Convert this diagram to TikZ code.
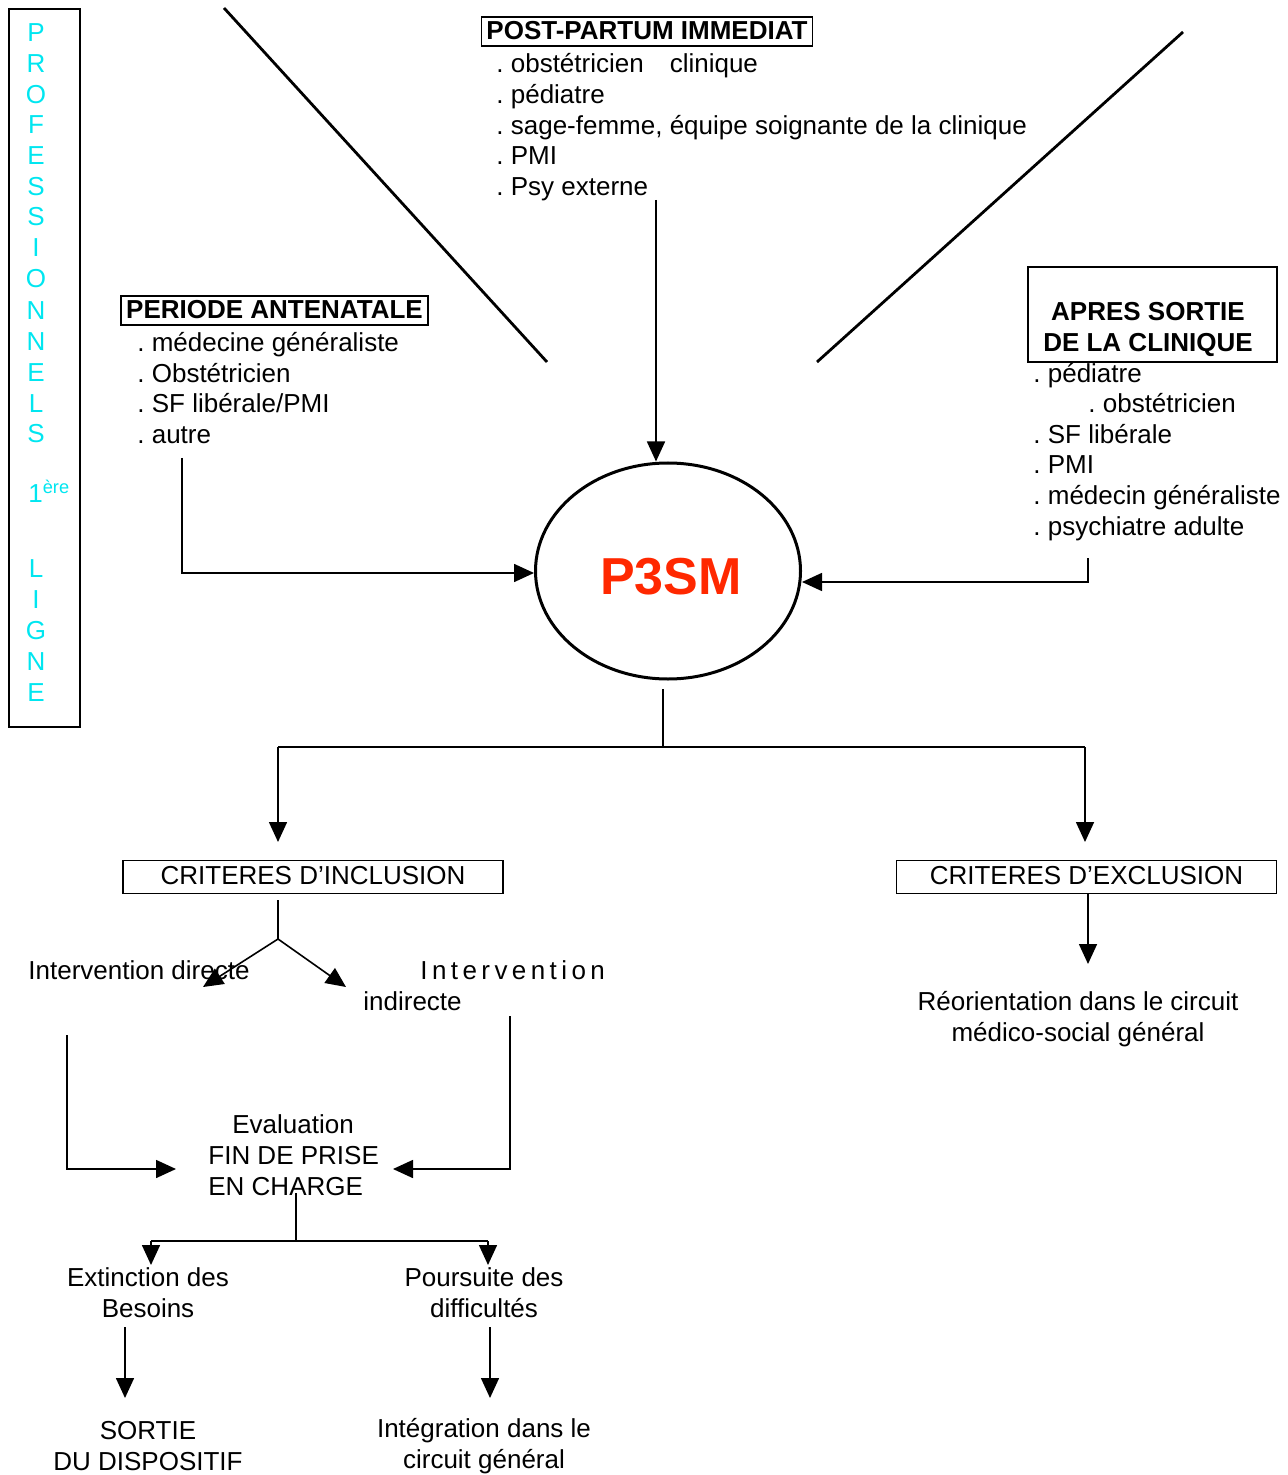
\documentclass[tikz,border=0pt]{standalone}
\usepackage{fontspec}
\setmainfont{Liberation Sans}
\usetikzlibrary{arrows.meta,shapes.geometric}
\definecolor{vertical}{RGB}{0,230,240}
\definecolor{logo}{RGB}{255,40,0}
\frenchspacing
\begin{document}
\begin{tikzpicture}[x=0.5pt,y=-0.5pt,
  every node/.style={inner sep=0pt,font=\fontsize{13}{15.5}\selectfont},
  conn/.style={line width=0.8pt},
  arr/.style={conn,-{Triangle[length=10pt,width=9pt]}},
  txt/.style={text height=11pt,text depth=1.3pt},
  item/.style={txt,anchor=west},
  head/.style={draw,line width=0.8pt,font=\fontsize{13}{15.5}\selectfont\bfseries,
    inner xsep=2.5pt,minimum height=14.5pt,text height=10.5pt,text depth=2.2pt},
  crit/.style={draw,line width=0.8pt,minimum width=190pt,minimum height=16.5pt,
    text height=10pt,text depth=2.2pt},
  vlet/.style={txt,text=vertical},
  multi/.style={align=center,font=\fontsize{13}{15.5}\selectfont}]
\useasboundingbox (0,0) rectangle (1287,1475);

% left banner with the vertical caption
\node[draw,line width=0.9pt,minimum width=35.5pt,minimum height=359pt,anchor=north west]
  (banner) at (8,8) {};
\foreach \l/\y [count=\i] in {P/32,R/63,O/94,F/124,E/155,S/186,S/216,I/247,O/278,
    N/310,N/341,E/372,L/403,S/433,L/568,I/599,G/630,N/661,E/692}
  \node[vlet] (v\i) at (36,\y) {\l};
\node[vlet,anchor=west] (vnum) at (28,493) {1\textsuperscript{ère}};

% decorative diagonals
\coordinate (d1a) at (224,8);
\coordinate (d1b) at (547,362);
\coordinate (d2a) at (1183,32);
\coordinate (d2b) at (817,362);
\draw[line width=1.4pt] (d1a) -- (d1b);
\draw[line width=1.4pt] (d2a) -- (d2b);

% central ellipse
\node[ellipse,draw,line width=1.5pt,minimum width=132.5pt,minimum height=108pt]
  (p3sm) at (668,571) {};
\node[font=\fontsize{26}{30}\selectfont\bfseries,text=logo] (p3smtxt) at (671,577) {P3SM};

% post-partum block
\node[head] (post) at (647,31.5) {POST-PARTUM IMMEDIAT};
\node[item] (post1) at (496,63) {. obstétricien\quad clinique};
\node[item] (post2) at (496,94) {. pédiatre};
\node[item] (post3) at (496,125) {. sage-femme, équipe soignante de la clinique};
\node[item] (post4) at (496,155) {. PMI};
\node[item] (post5) at (496,186) {. Psy externe};
\coordinate (postfoot) at (656,200);
\draw[arr] (postfoot) -- (postfoot |- p3sm.north);

% antenatal block
\node[head] (ante) at (274.5,310.5) {PERIODE ANTENATALE};
\node[item] (ante1) at (137,342) {. médecine généraliste};
\node[item] (ante2) at (137,373) {. Obstétricien};
\node[item] (ante3) at (137,403) {. SF libérale/PMI};
\node[item] (ante4) at (137,434) {. autre};
\coordinate (antefoot) at (182,458);
\coordinate (antebend) at (182,573);
\draw[arr] (antefoot) -- (antebend) -- (p3sm.west |- antebend);

% after discharge block
\node[draw,line width=0.8pt,minimum width=124.5pt,minimum height=47.5pt] (apresbox) at (1152.5,314.5) {};
\node[multi,font=\fontsize{13}{15.5}\selectfont\bfseries] (apres) at (1148,329) {APRES SORTIE\\DE LA CLINIQUE};
\node[item] (apres1) at (1033,373) {. pédiatre};
\node[item] (apres2) at (1088,403) {. obstétricien};
\node[item] (apres3) at (1033,434) {. SF libérale};
\node[item] (apres4) at (1033,464) {. PMI};
\node[item] (apres5) at (1033,495) {. médecin généraliste};
\node[item] (apres6) at (1033,526) {. psychiatre adulte};
\coordinate (apresfoot) at (1088,558);
\coordinate (apresbend) at (1088,582);
\draw[arr] (apresfoot) -- (apresbend) -- (p3sm.east |- apresbend);

% split into inclusion / exclusion
\node[crit] (incl) at (313,877) {CRITERES D’INCLUSION};
\node[crit] (excl) at (1086.5,877) {CRITERES D’EXCLUSION};
\coordinate (split0) at (663,689);
\coordinate (split1) at (663,747);
\coordinate (splitL) at (278,747);
\coordinate (splitR) at (1085,747);
\coordinate (inclhead) at (278,842);
\coordinate (exclhead) at (1085,842);
\draw[conn] (split0) -- (split1);
\draw[conn] (splitL) -- (splitR);
\draw[arr] (splitL) -- (inclhead);
\draw[arr] (splitR) -- (exclhead);

% exclusion branch
\coordinate (exclfoot) at (1088,893);
\coordinate (reohead) at (1088,964);
\draw[arr] (exclfoot) -- (reohead);
\node[multi] (reo) at (1078,1019) {Réorientation dans le circuit\\médico-social général};

% inclusion branch
\coordinate (inclfoot) at (278,900);
\coordinate (fork) at (278,939);
\coordinate (dirhead) at (203,987);
\coordinate (indhead) at (346,987);
\draw[conn] (inclfoot) -- (fork);
\draw[arr] (fork) -- (dirhead);
\draw[arr] (fork) -- (indhead);
\node[item] (direct) at (28,970) {Intervention directe};
\node[item] (indir1) at (420,970) {\addfontfeatures{LetterSpace=17}Intervention};
\node[item] (indir2) at (363,1001) {indirecte};

% evaluation
\node[align=left,anchor=west] (eval) at (208,1155) {\hspace*{12pt}Evaluation\\FIN DE PRISE\\EN CHARGE};
\coordinate (dirfoot) at (67,1035);
\coordinate (dirbend) at (67,1169);
\coordinate (evalL) at (176,1169);
\draw[arr] (dirfoot) -- (dirbend) -- (evalL);
\coordinate (indfoot) at (510,1016);
\coordinate (indbend) at (510,1169);
\coordinate (evalR) at (393,1169);
\draw[arr] (indfoot) -- (indbend) -- (evalR);

% outcome split
\coordinate (out0) at (296,1193);
\coordinate (out1) at (296,1241);
\coordinate (outL) at (151,1241);
\coordinate (outR) at (488,1241);
\draw[conn] (out0) -- (out1);
\draw[conn] (outL) -- (outR);
\draw[arr] (outL) -- (151,1265);
\draw[arr] (outR) -- (488,1265);
\node[multi] (ext) at (148,1293) {Extinction des\\Besoins};
\node[multi] (pours) at (484,1293) {Poursuite des\\difficultés};
\coordinate (extfoot) at (125,1327);
\coordinate (sorthead) at (125,1398);
\coordinate (poursfoot) at (490,1327);
\coordinate (integhead) at (490,1398);
\draw[arr] (extfoot) -- (sorthead);
\draw[arr] (poursfoot) -- (integhead);
\node[multi] (sortie) at (148,1446) {SORTIE\\DU DISPOSITIF};
\node[multi] (integ) at (484,1446) {Intégration dans le\\circuit général};
\end{tikzpicture}
\end{document}
